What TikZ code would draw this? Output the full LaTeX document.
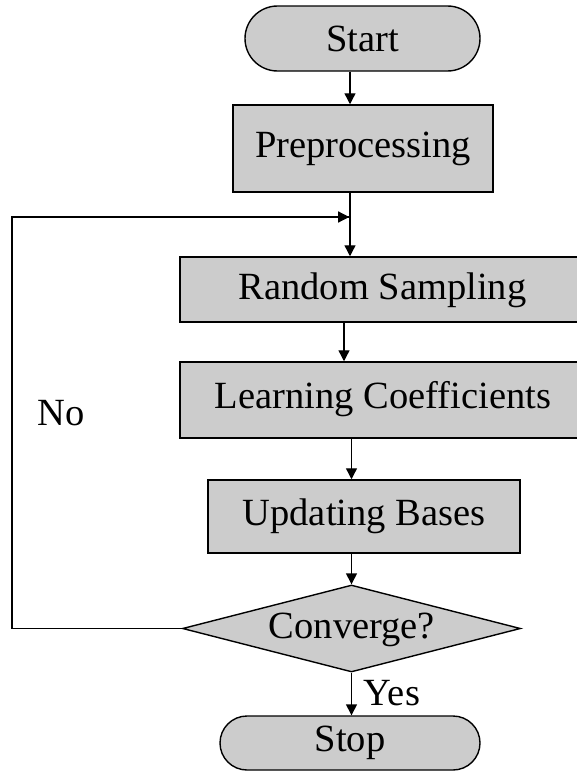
\documentclass[tikz,border=0pt]{standalone}
\usepackage{fontspec}
\setmainfont{Liberation Serif}
\usetikzlibrary{shapes.geometric,shapes.misc,arrows.meta,calc}
\definecolor{boxgray}{RGB}{204,204,204}
\begin{document}
\begin{tikzpicture}[x=1pt,y=-1pt,
  every node/.style={font=\fontsize{38.5}{44}\selectfont},
  procbox/.style={draw=black,line width=1.5pt,fill=boxgray,rectangle,inner sep=0pt},
  pill/.style={draw=black,line width=1.4pt,fill=boxgray,rounded rectangle,inner sep=0pt},
  decision/.style={draw=black,line width=1.4pt,fill=boxgray,diamond,inner sep=0pt},
  flow/.style={line width=1.4pt,-{Triangle[length=11pt,width=11pt]}},
  plain/.style={line width=1.4pt}]
\useasboundingbox (0,0) rectangle (577,771);
\node[pill,minimum width=235pt,minimum height=65pt] (start) at (362.5,38.5) {Start};
\node[procbox,minimum width=260pt,minimum height=87pt] (prep) at (363,148.5) {Preprocessing};
\node[procbox,minimum width=400pt,minimum height=65pt] (rs) at (380,289.5) {};
\node at (382.5,290) {Random Sampling};
\node[procbox,minimum width=400pt,minimum height=76pt] (lc) at (380,400) {};
\node at (383,399) {Learning Coefficients};
\node[procbox,minimum width=312pt,minimum height=73pt] (ub) at (364,516.5) {Updating Bases};
\node[decision,minimum width=338pt,minimum height=87pt,aspect=3.9] (conv) at (351.5,628.5) {};
\node at (352,630) {Converge?};
\node[pill,minimum width=260pt,minimum height=54pt] (stop) at (350,743) {Stop};
\coordinate (lpc) at (12,628.5);
\coordinate (ltc) at (12,217);
\coordinate (join) at (350,217);
\node (no) at (61,413) {No};
\node (yes) at (392,693) {Yes};
\draw[flow] (start.south -| join) -- (prep.north -| join);
\draw[flow] (prep.south -| join) -- (rs.north -| join);
\draw[flow] (rs.south -| 344,0) -- (lc.north -| 344,0);
\draw[flow] (lc.south -| conv.center) -- (ub.north -| conv.center);
\draw[flow] (ub.south -| conv.center) -- (conv.north);
\draw[flow] (conv.south) -- (stop.north -| conv.center);
\draw[plain] (conv.west) -- (lpc) -- (ltc) -- ($(join)+(-1,0)$);
\draw[flow] (ltc) -- ($(join)+(-0.8,0)$);
\end{tikzpicture}
\end{document}
